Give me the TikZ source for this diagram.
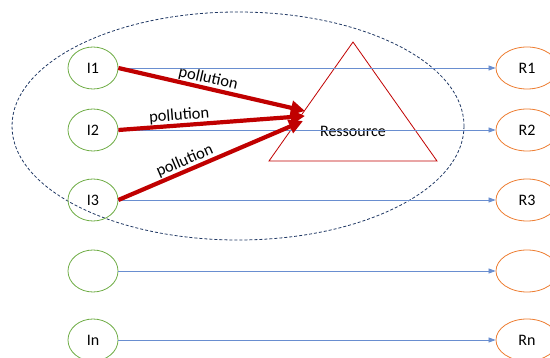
\documentclass[tikz,border=0pt]{standalone}
\usepackage{fontspec}
\setmainfont{Carlito}
\usetikzlibrary{shapes.geometric,arrows.meta}
\definecolor{ingreen}{HTML}{70AD47}
\definecolor{resorange}{HTML}{ED7D31}
\definecolor{flowblue}{HTML}{4472C4}
\definecolor{polred}{HTML}{C00000}
\definecolor{zonenavy}{HTML}{203864}
\begin{document}
\begin{tikzpicture}[x=1pt, y=-1pt,
    inbox/.style={ellipse, draw=ingreen, line width=0.8pt, minimum width=50pt, minimum height=42pt, inner sep=0pt, font=\fontsize{16}{16}\selectfont},
    resbox/.style={ellipse, draw=resorange, line width=0.8pt, minimum width=62pt, minimum height=42pt, inner sep=0pt, font=\fontsize{16}{16}\selectfont},
    flow/.style={draw=flowblue!80, line width=0.7pt, -{Triangle[length=7pt,width=5pt]}},
    pol/.style={draw=polred, line width=4.2pt, -{Triangle[length=14pt,width=14pt]}},
    pollab/.style={font=\fontsize{16.5}{16.5}\selectfont, sloped, above, inner sep=0.5pt}]
    \useasboundingbox (0,0) rectangle (550,358);
    \def\xi{93}
    \def\xr{527}

    % zone
    \draw[zonenavy, line width=0.8pt, dash pattern=on 3pt off 2pt] (238,126) ellipse [x radius=226, y radius=114];

    % ressource
    \draw[polred, line width=0.8pt] (353,42) -- (437,161) -- (269,161) -- cycle;
    \node[font=\fontsize{16}{16}\selectfont] (ress) at (353,131) {Ressource};

    % industries
    \node[inbox] (i1) at (\xi,68) {I1};
    \node[inbox] (i2) at (\xi,130) {I2};
    \node[inbox] (i3) at (\xi,200) {I3};
    \node[inbox] (i4) at (\xi,271) {};
    \node[inbox] (in) at (\xi,340) {In};

    % receivers
    \node[resbox] (r1) at (\xr,68) {R1};
    \node[resbox] (r2) at (\xr,130) {R2};
    \node[resbox] (r3) at (\xr,200) {R3};
    \node[resbox] (r4) at (\xr,271) {};
    \node[resbox] (rn) at (\xr,340) {Rn};

    % blues
    \draw[flow] (i1) -- (r1);
    \draw[flow] (i2) -- (r2);
    \draw[flow] (i3) -- (r3);
    \draw[flow] (i4) -- (r4);
    \draw[flow] (in) -- (rn);

    % reds
    \coordinate (hit1) at (305,111);
    \coordinate (hit2) at (305,116);
    \coordinate (hit3) at (303,121);
    \draw[pol] (i1.east) -- node[pollab, pos=0.47] {pollution} (hit1);
    \draw[pol] (i2.east) -- node[pollab, pos=0.33] {pollution} (hit2);
    \draw[pol] (i3.east) -- node[pollab, pos=0.38] {pollution} (hit3);
\end{tikzpicture}
\end{document}
